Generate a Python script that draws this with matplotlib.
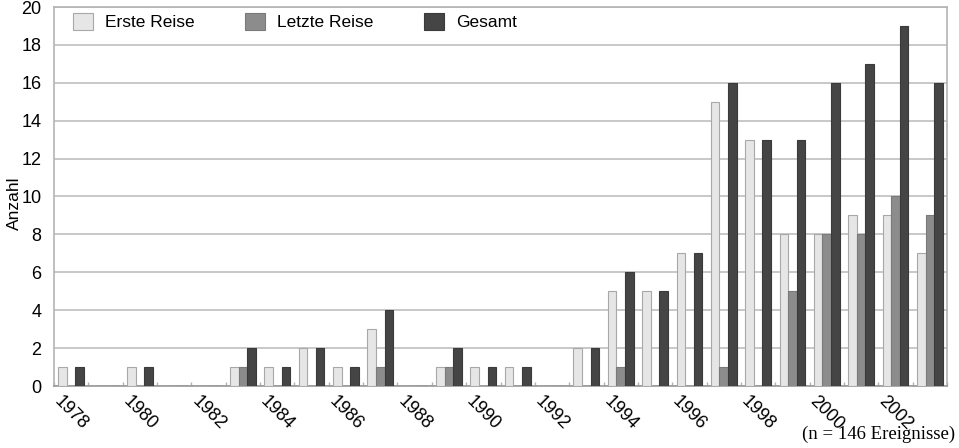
import matplotlib
matplotlib.use("Agg")
import matplotlib.pyplot as plt
import matplotlib.transforms as mtransforms
import numpy as np

years = list(range(1978, 2004))
erste = [1, 0, 1, 0, 0, 1, 1, 2, 1, 3, 0, 1, 1, 1, 0, 2, 5, 5, 7, 15, 13, 8, 8, 9, 9, 7]
letzte = [0, 0, 0, 0, 0, 1, 0, 0, 0, 1, 0, 1, 0, 0, 0, 0, 1, 0, 0, 1, 0, 5, 8, 8, 10, 9]
gesamt = [1, 0, 1, 0, 0, 2, 1, 2, 1, 4, 0, 2, 1, 1, 0, 2, 6, 5, 7, 16, 13, 13, 16, 17, 19, 16]
series_names = ["Erste Reise", "Letzte Reise", "Gesamt"]
y_ticks = list(range(0, 21, 2))

plt.rcParams['font.family'] = ['Liberation Sans', 'DejaVu Sans']

fig = plt.figure(figsize=(9.59, 4.48), dpi=100)
ax = fig.add_axes([54/959, 1 - 386/448, 893/959, 379/448])

x = np.arange(len(years))
w = 0.25
ax.bar(x - w, erste, w, color='#e6e6e6', edgecolor='#a8a8a8', linewidth=0.8, label=series_names[0], zorder=3)
ax.bar(x, letzte, w, color='#8c8c8c', edgecolor='#7a7a7a', linewidth=0.8, label=series_names[1], zorder=3)
ax.bar(x + w, gesamt, w, color='#454545', edgecolor='#3a3a3a', linewidth=0.8, label=series_names[2], zorder=3)

ax.set_xlim(-0.5, len(years) - 0.5)
ax.set_ylim(0, 20)
ax.set_yticks(y_ticks)
ax.yaxis.grid(True, color='#c4c4c4', linewidth=1.3, zorder=0)
ax.set_axisbelow(True)

major = [i for i, yv in enumerate(years) if yv % 2 == 0]
ax.set_xticks(major)
ax.set_xticklabels([str(years[i]) for i in major], rotation=-45, ha='center', va='top', fontsize=13)
offset = mtransforms.ScaledTranslation(4/100, 0, fig.dpi_scale_trans)
for lab in ax.get_xticklabels():
    lab.set_transform(lab.get_transform() + offset)
ax.set_xticks(np.arange(-0.5, len(years), 1), minor=True)
ax.tick_params(axis='x', which='major', length=0, pad=5)
ax.tick_params(axis='x', which='minor', length=3, direction='in', color='#b0b0b0', width=1)
ax.tick_params(axis='y', length=0, labelsize=13, pad=9)

for s in ax.spines.values():
    s.set_color('#b4b4b4')
    s.set_linewidth(1.2)
ax.spines['bottom'].set_color('#999999')

ax.set_ylabel('Anzahl', fontsize=12.5)
ax.yaxis.set_label_coords(-0.0355, 0.483)

leg = ax.legend(loc='upper left', bbox_to_anchor=(0.0213, 0.984), ncol=3, frameon=False,
                fontsize=12.5, handlelength=1.15, handleheight=1.1, handletextpad=0.7,
                columnspacing=2.9, borderpad=0, borderaxespad=0)

fig.text(0.996, 0.012, '(n = 146 Ereignisse)', ha='right', va='bottom',
         fontsize=13.5, family=['Liberation Serif', 'DejaVu Serif'])

fig.savefig('out.png', dpi=100)
